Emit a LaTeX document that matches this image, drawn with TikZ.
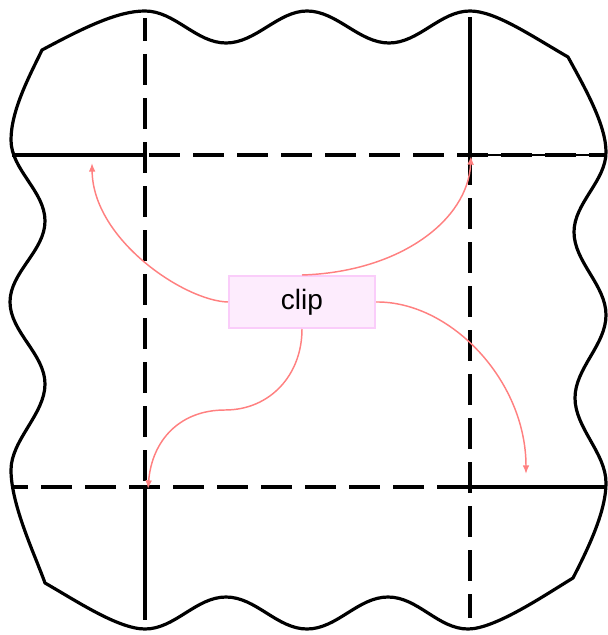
\documentclass[tikz,border=0pt]{standalone}
\usepackage{fontspec}
\setmainfont{Liberation Sans}
\usetikzlibrary{arrows.meta}
\definecolor{arrowpink}{RGB}{255,128,128}
\definecolor{nodefill}{RGB}{253,236,253}
\definecolor{nodedraw}{RGB}{250,205,250}
\begin{document}
\begin{tikzpicture}[x=0.75pt,y=-0.75pt,
  border/.style={line width=2.4pt,line join=round},
  solidline/.style={line width=2.7pt},
  thinline/.style={line width=2.1pt},
  dashline/.style={line width=2.7pt,dash pattern=on 23.25pt off 9.75pt},
  link/.style={draw=arrowpink,line width=1.1pt,-{Latex[length=6.5pt,width=5pt]}},
  box/.style={fill=nodefill,draw=nodedraw,line width=1.5pt,minimum width=109.5pt,minimum height=39pt,inner sep=0pt,font=\fontsize{21}{25}\selectfont}]
\useasboundingbox (0,0) rectangle (607,635);
% grid lines
\draw[solidline] (12,155) -- (145,155);
\draw[dashline] (149,155) -- (607,155);
\draw[thinline] (470,155) -- (605,155);
\draw[dashline,dash phase=11.25pt] (12,487) -- (470,487);
\draw[solidline] (470,487) -- (605,487);
\draw[dashline,dash phase=6pt] (145,18) -- (145,487);
\draw[solidline] (145,487) -- (145,620);
\draw[solidline] (470,17) -- (470,155);
\draw[dashline] (470,154) -- (470,618);
% wavy border
\draw[border] (42,50)
  .. controls (85,27) and (118,11) .. (145,11)
  .. controls (175,11) and (196,43) .. (226,43)
  .. controls (256,43) and (278,11) .. (307,11)
  .. controls (337,11) and (359,43) .. (389,43)
  .. controls (419,43) and (440,11) .. (470,11)
  .. controls (495,11) and (530,35) .. (568,57)
  .. controls (585,88) and (606,125) .. (606,152)
  .. controls (606,181) and (574,203) .. (574,232)
  .. controls (574,262) and (606,285) .. (606,315)
  .. controls (606,345) and (575,368) .. (575,398)
  .. controls (575,428) and (606,453) .. (606,483)
  .. controls (606,510) and (590,545) .. (573,578)
  .. controls (545,595) and (495,629) .. (468,629)
  .. controls (438,629) and (418,597) .. (388,597)
  .. controls (358,597) and (337,629) .. (307,629)
  .. controls (277,629) and (256,597) .. (226,597)
  .. controls (196,597) and (175,629) .. (145,629)
  .. controls (118,629) and (75,600) .. (45,583)
  .. controls (35,555) and (11,505) .. (11,470)
  .. controls (11,440) and (45,414) .. (45,384)
  .. controls (45,354) and (10,332) .. (10,302)
  .. controls (10,272) and (45,251) .. (45,221)
  .. controls (45,191) and (11,170) .. (11,140)
  .. controls (11,110) and (30,75) .. (42,50) -- cycle;
% node and connectors
\node[box] (clip) at (302,302) {clip};
\coordinate (t1) at (92,163);
\coordinate (t2) at (471,156);
\coordinate (t3) at (526,474);
\coordinate (t4) at (148,489);
\coordinate (m4) at (225,410);
\draw[link] (clip.west) .. controls (185,301) and (93,240) .. (t1);
\draw[link] (clip.north) .. controls (400,272) and (468,220) .. (t2);
\draw[link] (clip.east) .. controls (450,301) and (526,380) .. (t3);
\draw[link] (clip.south) .. controls (302,375) and (270,410) .. (m4)
  .. controls (180,410) and (152,440) .. (t4);
\end{tikzpicture}
\end{document}
